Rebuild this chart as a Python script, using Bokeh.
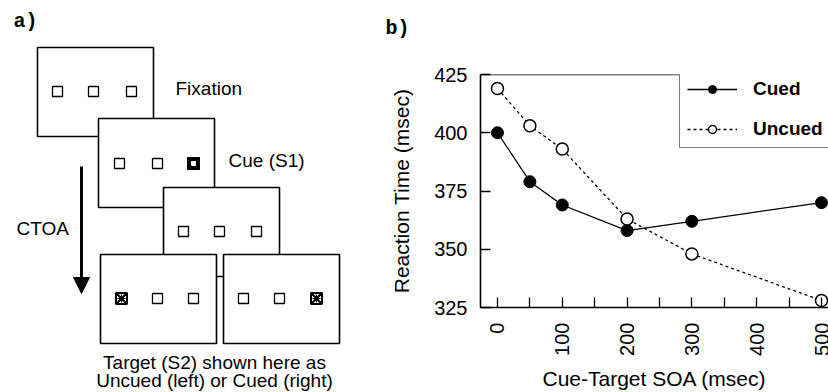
import math
from bokeh.plotting import figure
from bokeh.layouts import row
from bokeh.models import (Range1d, FixedTicker, Legend, LegendItem, Span,
                          Arrow, NormalHead, ColumnDataSource)
from bokeh.core.properties import value
from bokeh.embed import file_html
from bokeh.resources import INLINE

# ---------------- data (panel b) ----------------
soa = [0, 50, 100, 200, 300, 500]
cued = [400, 379, 369, 358, 362, 370]
uncued = [419, 403, 393, 363, 348, 328]
x_ticks = [0, 50, 100, 150, 200, 250, 300, 350, 400, 450, 500]
x_tick_labels = ["0", "", "100", "", "200", "", "300", "", "400", "", "500"]
y_ticks = [325, 350, 375, 400, 425]
series_names = ["Cued", "Uncued"]

# ---------------- diagram content (panel a) ----------------
screen_left = [37, 98, 163, 100, 223]
screen_right = [153, 214, 279, 216, 339]
screen_top = [47, 118, 187, 254, 254]
screen_bottom = [136, 207, 276, 343, 343]
plain_x = [57, 93, 131, 119, 157, 183, 219, 256, 157, 193, 243, 279]
plain_y = [91, 91, 91, 163, 163, 231, 231, 231, 298, 298, 298, 298]
cue_x = [193]
cue_y = [163]
target_x = [121, 316]
target_y = [298, 298]
diagram_texts = ["Fixation", "Cue (S1)", "CTOA"]
diagram_text_x = [175, 228, 16]
diagram_text_y = [88, 160, 228]
caption_lines = ["Target (S2) shown here as", "Uncued (left) or Cued (right)"]
caption_x = [214, 214]
caption_y = [362, 380]

FONT = "Liberation Sans"

# ---------------- panel a ----------------
d = figure(width=380, height=392, x_range=Range1d(0, 380), y_range=Range1d(392, 0),
           output_backend="svg", toolbar_location=None, min_border=0,
           x_axis_location=None, y_axis_location=None)
d.frame_align = False
d.grid.visible = False
d.outline_line_color = None

d.quad(left=screen_left, right=screen_right, top=screen_top, bottom=screen_bottom,
       fill_color="white", line_color="black", line_width=1.6)
d.scatter(plain_x, plain_y, marker="square", size=10, fill_color="white",
          line_color="black", line_width=1.3)
d.scatter(cue_x, cue_y, marker="square", size=12, fill_color="black", line_color="black")
d.scatter(cue_x, cue_y, marker="square", size=4, fill_color="white", line_color="white")
d.scatter(target_x, target_y, marker="square_x", size=11, fill_color="white",
          line_color="black", line_width=2)
d.scatter(target_x, target_y, marker="asterisk", size=8, line_color="black", line_width=1.2)

d.text(diagram_text_x, diagram_text_y, text=diagram_texts, text_font=value(FONT),
       text_font_size=value("19px"), text_baseline="middle", text_align="left",
       text_color="black")
d.text(caption_x, caption_y, text=caption_lines, text_font=value(FONT),
       text_font_size=value("19px"), text_baseline="middle", text_align="center",
       text_color="black")
d.text([13], [21], text=["a)"], text_font=value("Liberation Mono"),
       text_font_size=value("20px"), text_font_style="bold", text_baseline="middle",
       text_align="left", text_color="black")
d.add_layout(Arrow(end=NormalHead(size=16, fill_color="black", line_color="black"),
                   x_start=81, y_start=166, x_end=81, y_end=293,
                   line_width=3, line_color="black"))

# ---------------- panel b ----------------
p = figure(width=448, height=392, x_range=Range1d(-26.2, 510.8), y_range=Range1d(325, 425),
           output_backend="svg", toolbar_location=None, title="b)\n ",
           min_border_left=100, min_border_right=0, min_border_top=74, min_border_bottom=83)
p.frame_align = False
p.grid.visible = False
p.outline_line_color = None
p.title.align = "left"
p.title.vertical_align = "top"
p.title.offset = -95
p.title.standoff = 20
p.title.text_font = "Liberation Mono"
p.title.text_font_size = "20px"
p.title.text_font_style = "bold"
p.title.text_color = "black"

src = ColumnDataSource(dict(soa=soa, cued=cued, uncued=uncued))
l1 = p.line("soa", "cued", source=src, line_color="black", line_width=1.3)
l2 = p.line("soa", "uncued", source=src, line_color="black", line_width=1.3, line_dash="3 3")
s1 = p.scatter("soa", "cued", source=src, marker="circle", size=12,
               fill_color="black", line_color="black")
s2 = p.scatter("soa", "uncued", source=src, marker="circle", size=12,
               fill_color="white", line_color="black", line_width=1.5)

xa = p.xaxis[0]
xa.ticker = FixedTicker(ticks=x_ticks)
xa.major_label_overrides = {t: lab for t, lab in zip(x_ticks, x_tick_labels)}
xa.major_label_orientation = math.pi / 2
xa.minor_tick_line_color = None
xa.major_tick_in = 10
xa.major_tick_out = 0
xa.major_label_standoff = 15
xa.axis_label = "Cue-Target SOA (msec)"
xa.axis_label_standoff = 8

ya = p.yaxis[0]
ya.ticker = FixedTicker(ticks=y_ticks)
ya.minor_tick_line_color = None
ya.major_tick_in = 10
ya.major_tick_out = 0
ya.major_label_standoff = 13
ya.axis_label = "Reaction Time (msec)"
ya.axis_label_standoff = 18

for ax in (xa, ya):
    ax.axis_line_width = 1.6
    ax.major_tick_line_width = 1.3
    ax.axis_line_color = "black"
    ax.major_tick_line_color = "black"
    ax.major_label_text_font = FONT
    ax.major_label_text_font_size = "20px"
    ax.major_label_text_color = "black"
    ax.axis_label_text_font = FONT
    ax.axis_label_text_font_size = "21px"
    ax.axis_label_text_font_style = "normal"
    ax.axis_label_text_color = "black"

p.add_layout(Span(location=425, dimension="width", line_color="black", line_width=1.6))

legend = Legend(items=[LegendItem(label=series_names[0], renderers=[l1, s1]),
                       LegendItem(label=series_names[1], renderers=[l2, s2])],
                location=(199, 159), padding=7, spacing=18, margin=0,
                glyph_width=50, glyph_height=20, label_height=20, label_standoff=16,
                border_line_color="black", border_line_width=1.5,
                background_fill_color="white", background_fill_alpha=1.0,
                label_text_font=FONT, label_text_font_size="19px",
                label_text_font_style="bold", label_text_color="black")
p.add_layout(legend, "center")

layout = row(d, p, spacing=0)
open("out.html", "w").write(file_html(layout, INLINE))
